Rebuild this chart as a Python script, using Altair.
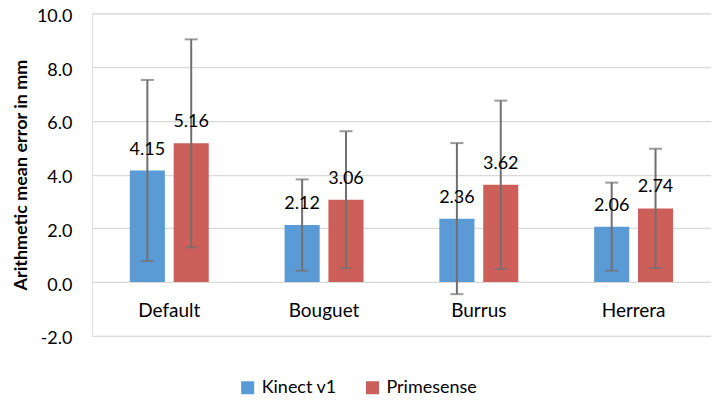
import altair as alt
import pandas as pd

categories = ["Default", "Bouguet", "Burrus", "Herrera"]
series = ["Kinect v1", "Primesense"]
kinect_mean = [4.15, 2.12, 2.36, 2.06]
kinect_err = [3.37, 1.70, 2.81, 1.64]
prime_mean = [5.16, 3.06, 3.62, 2.74]
prime_err = [3.87, 2.55, 3.13, 2.22]
y_ticks = [-2, 0, 2, 4, 6, 8, 10]

rows = []
for i, c in enumerate(categories):
    for s, m, e in ((series[0], kinect_mean[i], kinect_err[i]), (series[1], prime_mean[i], prime_err[i])):
        rows.append({"cat": c, "series": s, "mean": m, "lo": m - e, "hi": m + e,
                     "label": f"{m:.2f}"})
df = pd.DataFrame(rows)

FONT = "Lato"
colors = ["#5B9BD5", "#CD5F5A"]

x = alt.X("cat:N", sort=categories, title=None,
          scale=alt.Scale(paddingInner=0.49, paddingOuter=0.245),
          axis=alt.Axis(orient="bottom", offset=-54, labelPadding=20, ticks=False,
                        domain=False, labelAngle=0, labelFontSize=19, labelFont=FONT,
                        labelColor="#000000"))
xo = alt.XOffset("series:N", sort=series,
                 scale=alt.Scale(paddingInner=0.2, paddingOuter=0))

yscale = alt.Scale(domain=[-2, 10], nice=False)

bars = alt.Chart(df).mark_bar().encode(
    x=x, xOffset=xo,
    y=alt.Y("mean:Q", scale=yscale, title="Arithmetic mean error in mm",
            axis=alt.Axis(values=y_ticks, domain=False, ticks=False,
                          labelExpr="datum.value < 0 ? '-' + format(-datum.value, '.1f') : format(datum.value, '.1f')",
                          labelPadding=20, labelFontSize=18, labelFont=FONT, labelOffset=3,
                          labelColor="#000000", titleFont=FONT, titleFontSize=18,
                          titleFontWeight="bold", titleColor="#000000", titlePadding=6,
                          gridColor="#D9D9D9", gridWidth=1.3)),
    color=alt.Color("series:N", sort=series, scale=alt.Scale(domain=series, range=colors),
                    legend=alt.Legend(title=None, orient="none", legendX=147, legendY=366,
                                      direction="horizontal", symbolType="square",
                                      symbolSize=170, symbolStrokeWidth=0,
                                      labelFontSize=18, labelFont=FONT, labelColor="#000000",
                                      labelOffset=5, columnPadding=26)),
)

rules = alt.Chart(df).mark_rule(color="#707070", strokeWidth=2).encode(
    x=x, xOffset=xo, y=alt.Y("lo:Q", scale=yscale), y2="hi:Q")

caps_hi = alt.Chart(df).mark_tick(color="#707070", thickness=2, size=13, orient="horizontal").encode(
    x=x, xOffset=xo, y=alt.Y("hi:Q", scale=yscale))
caps_lo = alt.Chart(df).mark_tick(color="#707070", thickness=2, size=13, orient="horizontal").encode(
    x=x, xOffset=xo, y=alt.Y("lo:Q", scale=yscale))

labels = alt.Chart(df).mark_text(baseline="bottom", dy=-12, fontSize=18, font=FONT,
                                 color="#000000").encode(
    x=x, xOffset=xo, y=alt.Y("mean:Q", scale=yscale), text="label:N")

chart = alt.layer(bars, rules, caps_hi, caps_lo, labels).properties(
    width=620, height=323,
    autosize=alt.AutoSizeParams(type="none"),
    padding={"left": 84, "top": 5, "right": 0, "bottom": 70},
).configure_view(stroke=None).configure(background="#FFFFFF")

chart.save("out.html", embed_options={"renderer": "svg", "actions": False})
